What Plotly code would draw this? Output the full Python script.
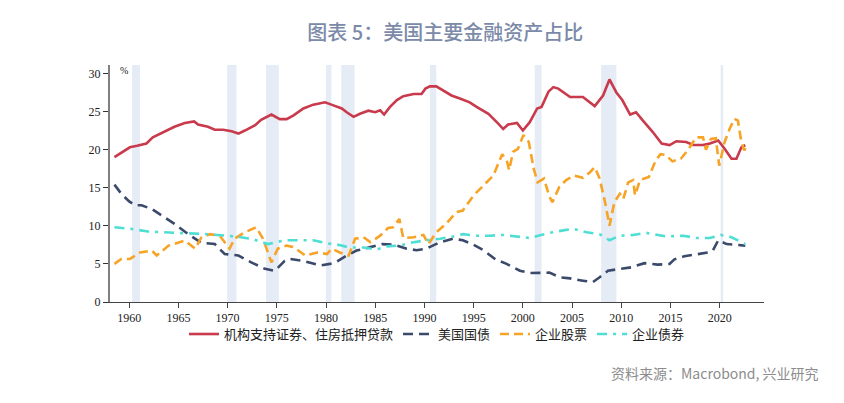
#!/usr/bin/env python3
"""
US major financial assets share chart (图表 5).
"""

import plotly.graph_objects as go

# 机构支持证券、住房抵押贷款 (agency securities & mortgages), % share
mbs_years = [1958.5, 1959.0, 1959.5, 1960.07, 1960.8, 1961.75, 1962.4, 1963.0, 1963.6, 1964.6,
             1965.65, 1966.6, 1967.0, 1968.0, 1968.7, 1969.55, 1970.4, 1971.1, 1971.75, 1972.8,
             1973.4, 1974.45, 1975.3, 1976.0, 1976.7, 1977.7, 1978.7, 1979.9, 1980.75, 1981.6,
             1982.1, 1982.8, 1983.45, 1984.3, 1985.0, 1985.5, 1985.9, 1986.5, 1987.2, 1987.85,
             1988.9, 1989.7, 1990.1, 1990.55, 1991.2, 1991.9, 1992.75, 1993.6, 1994.6, 1995.3,
             1996.5, 1997.5, 1998.0, 1998.5, 1999.4, 2000.0, 2000.7, 2001.45, 2001.9, 2002.6,
             2003.1, 2003.6, 2004.3, 2004.8, 2006.1, 2006.8, 2007.3, 2008.15, 2008.8, 2009.5,
             2010.1, 2010.9, 2011.5, 2012.2, 2013.2, 2014.1, 2014.9, 2015.6, 2016.6, 2017.3,
             2018.3, 2019.0, 2019.85, 2020.5, 2021.2, 2021.7, 2022.2, 2022.6]
mbs_values = [19.0, 19.4, 19.8, 20.3, 20.5, 20.8, 21.6, 22.0, 22.4, 23.0,
              23.5, 23.7, 23.3, 23.0, 22.6, 22.6, 22.4, 22.1, 22.5, 23.2,
              23.9, 24.6, 24.0, 24.0, 24.5, 25.4, 25.9, 26.2, 25.8, 25.4,
              24.9, 24.3, 24.7, 25.1, 24.9, 25.15, 24.6, 25.6, 26.5, 27.0,
              27.3, 27.3, 28.0, 28.3, 28.3, 27.8, 27.1, 26.7, 26.2, 25.6,
              24.7, 23.4, 22.7, 23.3, 23.5, 22.5, 23.6, 25.4, 25.6, 27.6,
              28.2, 28.0, 27.3, 26.9, 26.9, 26.2, 25.7, 27.1, 29.2, 27.5,
              26.5, 24.6, 24.9, 23.8, 22.3, 20.8, 20.6, 21.1, 21.0, 20.6,
              20.6, 20.8, 21.2, 20.1, 18.8, 18.8, 20.3, 20.6]

# 美国国债 (US Treasuries)
ust_years = [1958.5, 1959.2, 1960.0, 1960.6, 1961.25, 1962.3, 1963.6, 1964.6, 1966.0, 1967.3,
             1968.7, 1969.7, 1971.1, 1972.4, 1973.8, 1974.8, 1975.8, 1976.3, 1977.7, 1979.4,
             1980.4, 1981.1, 1982.1, 1983.1, 1984.5, 1985.7, 1987.0, 1988.2, 1989.2, 1990.2,
             1991.6, 1992.9, 1993.9, 1995.0, 1996.0, 1997.2, 1998.35, 1999.7, 2000.7, 2001.55,
             2002.7, 2003.75, 2004.8, 2006.1, 2007.1, 2007.8, 2008.65, 2009.85, 2011.0, 2012.35,
             2013.7, 2014.9, 2015.4, 2016.4, 2017.8, 2018.8, 2019.3, 2019.85, 2020.7, 2021.55,
             2022.6]
ust_values = [15.4, 14.2, 13.2, 12.7, 12.7, 12.2, 11.1, 10.25, 8.9, 7.8,
              7.6, 6.3, 6.1, 5.2, 4.35, 4.1, 5.4, 5.65, 5.4, 4.8,
              5.0, 5.3, 6.1, 6.75, 7.2, 7.6, 7.5, 7.0, 6.8, 7.0,
              7.85, 8.3, 8.1, 7.5, 6.8, 5.6, 5.0, 4.1, 3.8, 3.85,
              3.85, 3.25, 3.1, 2.8, 2.6, 3.25, 4.1, 4.35, 4.55, 5.1,
              4.9, 5.0, 5.6, 6.0, 6.3, 6.5, 6.75, 8.1, 7.6, 7.5,
              7.4]

# 企业股票 (corporate equities)
eq_years = [1958.5, 1959.2, 1960.07, 1961.1, 1962.3, 1962.8, 1964.0, 1965.65, 1966.7, 1967.35,
            1968.2, 1969.2, 1970.2, 1970.7, 1971.75, 1972.9, 1973.6, 1974.45, 1975.1, 1976.0,
            1976.7, 1977.9, 1979.1, 1980.1, 1980.6, 1981.4, 1982.3, 1982.95, 1983.8, 1984.5,
            1985.5, 1986.3, 1986.8, 1987.45, 1987.85, 1988.9, 1989.9, 1990.4, 1991.2, 1992.2,
            1993.25, 1993.9, 1995.0, 1996.0, 1997.0, 1997.9, 1998.4, 1998.6, 1999.0, 1999.5,
            2000.05, 2000.6, 2001.1, 2001.5, 2002.15, 2002.7, 2003.0, 2003.7, 2004.4, 2005.2,
            2006.1, 2006.8, 2007.3, 2007.8, 2008.35, 2008.8, 2009.3, 2009.85, 2010.2, 2010.7,
            2011.2, 2011.4, 2011.9, 2012.8, 2013.5, 2014.0, 2014.5, 2015.2, 2016.05, 2016.75,
            2017.6, 2018.3, 2018.6, 2019.1, 2019.6, 2019.95, 2020.5, 2021.0, 2021.5, 2021.85,
            2022.2, 2022.5, 2022.75]
eq_values = [5.0, 5.65, 5.65, 6.5, 6.75, 6.1, 7.4, 8.07, 7.0, 8.5,
             8.9, 8.7, 7.0, 8.3, 9.15, 9.8, 8.3, 5.2, 7.0, 7.4,
             7.2, 6.1, 6.5, 6.3, 7.0, 6.5, 6.1, 8.3, 8.5, 7.85,
             8.7, 9.7, 9.8, 10.9, 8.4, 8.5, 8.8, 7.6, 9.15, 10.25,
             11.8, 12.0, 14.0, 15.3, 16.6, 19.4, 18.4, 17.3, 19.7, 20.1,
             21.9, 21.0, 17.5, 15.7, 16.2, 13.8, 13.1, 15.1, 16.0, 16.6,
             16.3, 17.0, 17.7, 16.2, 13.1, 10.0, 13.1, 14.2, 13.5, 15.7,
             16.0, 14.0, 16.0, 16.4, 18.6, 19.4, 19.3, 18.45, 18.8, 19.9,
             21.6, 21.6, 20.0, 21.4, 21.5, 17.9, 21.0, 22.7, 24.05, 23.8,
             21.0, 19.9, 20.5]

# 企业债券 (corporate bonds)
cb_years = [1958.5, 1960.2, 1961.9, 1964.0, 1966.0, 1968.0, 1970.7, 1972.4, 1974.1, 1975.8,
            1977.35, 1978.7, 1980.1, 1981.25, 1982.4, 1983.8, 1985.15, 1986.2, 1987.5, 1988.9,
            1990.2, 1991.6, 1992.9, 1993.9, 1995.3, 1996.6, 1998.0, 1999.35, 2000.7, 2001.55,
            2002.7, 2004.1, 2005.1, 2006.5, 2007.8, 2008.8, 2009.85, 2011.2, 2012.55, 2014.6,
            2016.3, 2017.6, 2019.0, 2020.1, 2021.2, 2022.6]
cb_values = [9.8, 9.6, 9.25, 9.15, 9.07, 8.9, 8.6, 8.3, 7.6, 8.1,
             8.1, 8.1, 7.7, 7.5, 7.15, 7.15, 6.9, 7.3, 7.4, 7.85,
             8.1, 8.3, 8.6, 8.9, 8.7, 8.7, 8.8, 8.6, 8.4, 8.7,
             9.07, 9.4, 9.6, 9.15, 8.9, 8.1, 8.7, 8.8, 9.07, 8.6,
             8.7, 8.4, 8.4, 8.8, 8.5, 7.6]

# NBER recessions (start, end)
recessions = [(1960.3, 1961.1), (1969.95, 1970.9), (1973.9, 1975.2), (1980.0, 1980.55),
              (1981.55, 1982.9), (1990.55, 1991.2), (2001.2, 2001.9), (2007.95, 2009.5),
              (2020.1, 2020.35)]

series = [
    ('机构支持证券、住房抵押贷款', mbs_years, mbs_values, '#c83a4c', 'solid'),
    ('美国国债', ust_years, ust_values, '#3b4a6b', '10px,6px'),
    ('企业股票', eq_years, eq_values, '#f7a325', '9px,5px'),
    ('企业债券', cb_years, cb_values, '#4fded3', '10px,6px,3px,6px'),
]

fig = go.Figure()

for name, xs, ys, color, dash in series:
    fig.add_trace(go.Scatter(
        x=xs, y=ys, mode='lines', name=name,
        line=dict(color=color, width=2.6, dash=dash),
    ))

for start, end in recessions:
    fig.add_shape(type='rect', xref='x', yref='paper', x0=start, x1=end, y0=0, y1=1,
                  fillcolor='#e5ecf5', line=dict(width=0), layer='below')

tick_font = dict(family='Liberation Serif, Times New Roman, serif', size=12, color='#222')

fig.update_xaxes(range=[1958.05, 2024.5], tick0=1960, dtick=5, ticks='outside', ticklen=5,
                 tickcolor='#444', showline=True, linecolor='#444', linewidth=1,
                 showgrid=False, zeroline=False, tickfont=tick_font)
fig.update_yaxes(range=[0, 31.1], tick0=0, dtick=5, ticks='outside', ticklen=5,
                 tickcolor='#333', showline=True, linecolor='#808080', linewidth=2,
                 showgrid=False, zeroline=False, tickfont=tick_font)

fig.add_annotation(text='%', xref='paper', yref='paper', x=0.012, y=0.975,
                   xanchor='left', yanchor='middle', showarrow=False,
                   font=dict(family='Liberation Serif, serif', size=10, color='#222'))

fig.add_annotation(text='资料来源：Macrobond, 兴业研究', xref='paper', yref='paper',
                   x=1.087, y=-0.30, xanchor='right', yanchor='middle', showarrow=False,
                   font=dict(family='Noto Sans CJK SC', size=14, color='#8c8c8c'))

# the page puts the figure 8px in from the top-left corner, so the figure is
# drawn 8px smaller and the margins shifted to land where the reference has them
fig.update_layout(
    width=836, height=395,
    margin=dict(l=102, r=80, t=57, b=101),
    paper_bgcolor='white', plot_bgcolor='white',
    title=dict(text='图表 5：美国主要金融资产占比', x=0.523, xanchor='center',
               y=0.937, yanchor='middle',
               font=dict(family='Noto Sans CJK SC', size=20, color='#7b8aa8', weight=500)),
    showlegend=True,
    legend=dict(orientation='h', x=0.5, xanchor='center', y=-0.072, yanchor='top',
                font=dict(family='Noto Sans CJK SC', size=13, color='#222'),
                itemwidth=30, tracegroupgap=0, bgcolor='rgba(0,0,0,0)'),
)

fig.write_html('out.html')
